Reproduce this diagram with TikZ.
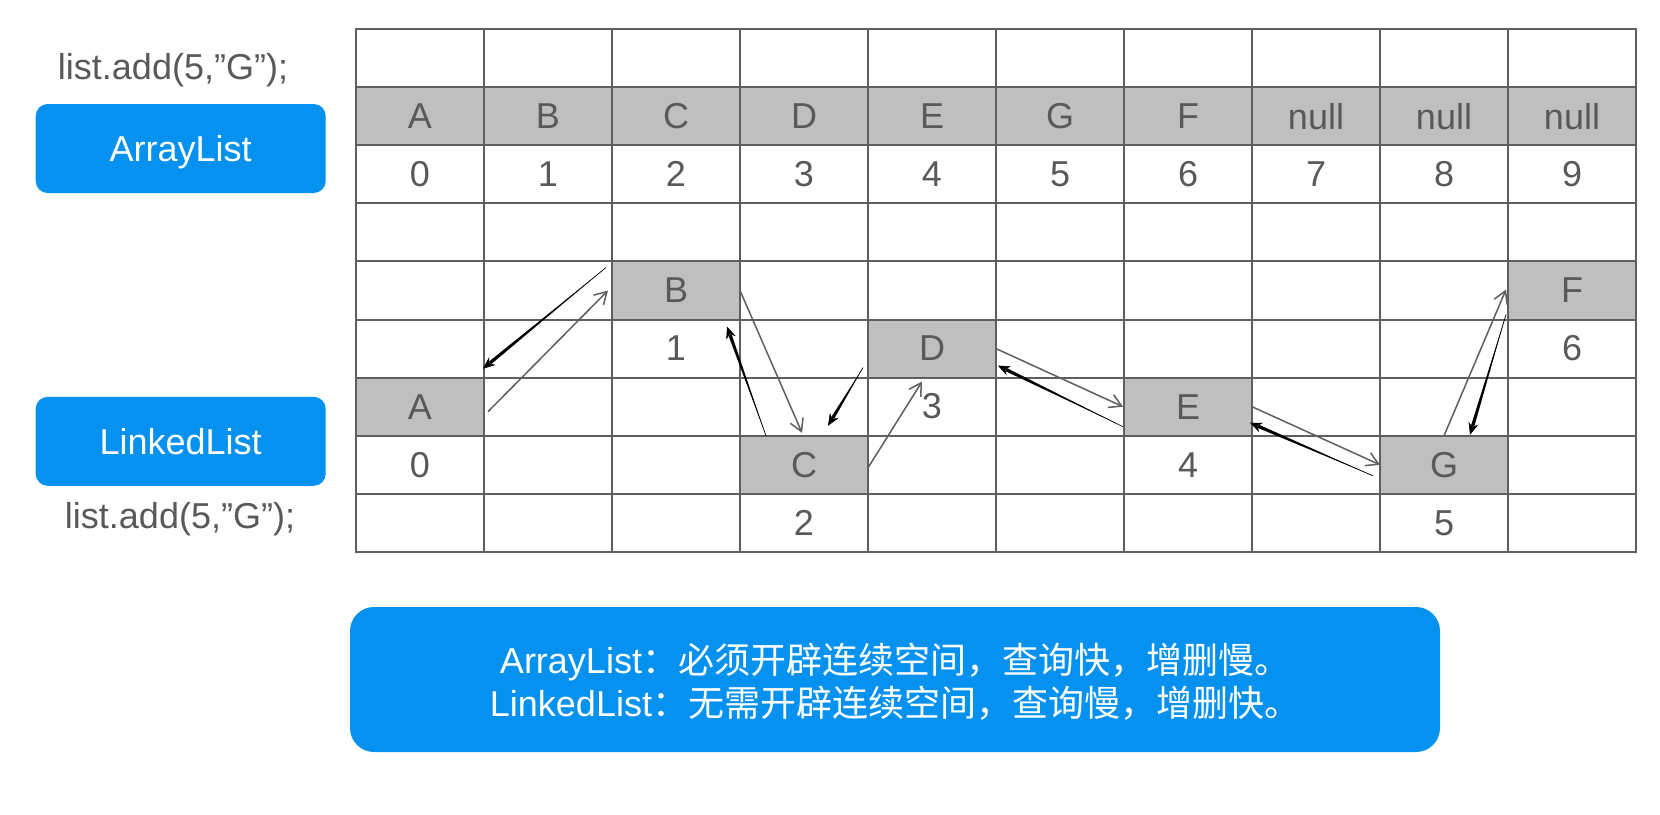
\documentclass[tikz,border=0pt]{standalone}
\usepackage{fontspec}
\setmainfont{Liberation Sans}
\newfontfamily\cjk{Noto Sans CJK SC}
\usetikzlibrary{arrows.meta, positioning, calc}
\definecolor{cellgray}{HTML}{BFBFBF}
\definecolor{inkgray}{HTML}{595959}
\definecolor{linegray}{HTML}{5F5F5F}
\definecolor{tagblue}{HTML}{0591EF}
\tikzset{
  cell/.style={rectangle, minimum width=64pt, minimum height=29pt,
               inner sep=0pt, outer sep=0pt, text=inkgray,
               font=\fontsize{18}{21.6}\selectfont},
  hcell/.style={cell, fill=cellgray},
  tag/.style={rectangle, rounded corners=6pt, fill=tagblue, text=white,
              minimum width=145pt, minimum height=44.5pt, text depth=0pt,
              font=\fontsize{18}{21.6}\selectfont},
  note/.style={tag, rounded corners=12pt, minimum width=545pt,
               minimum height=72.5pt, align=center,
               font=\fontsize{18}{21.5}\selectfont},
  code/.style={text=inkgray, inner sep=0pt, anchor=base,
               font=\fontsize{18}{21.6}\selectfont},
  gridline/.style={draw=linegray, line width=1pt, line cap=rect},
  nxt/.style={draw=linegray, line width=0.75pt,
              -{Straight Barb[length=6pt, width=7pt]}},
  prvtip/.style={draw=black, line width=0.3pt,
                 -{Stealth[length=6pt, width=5pt]}},
}
% tapered back link
\newcommand{\backlink}[2]{%
  \coordinate (ts) at (#1);
  \coordinate (te) at (#2);
  \coordinate (tb) at ($(te)!4.5pt!(ts)$);
  \fill[black] (ts) -- ($(tb)!0.85pt!90:(ts)$) -- ($(tb)!0.85pt!-90:(ts)$) -- cycle;
  \draw[prvtip] (ts) -- (te);
}

\begin{document}
\begin{tikzpicture}[x=0.5pt, y=-0.5pt]
  \path[fill=white] (0,0) rectangle (1660,814);
  \useasboundingbox (0,0) rectangle (1660,814);

  % left labels
  \node[code] (code1) at (173,79) {list.add(5,”G”);};
  \node[tag] (tarr) at (180.7,148.5) {ArrayList};
  \node[tag] (tlnk) at (180.7,441.3) {LinkedList};
  \node[code] (code2) at (180,528) {list.add(5,”G”);};

  % array row
  \foreach \v [count=\i from 0] in {A,B,C,D,E,G,F,null,null,null} {
    \node[hcell] (a\i) at ({420+128*\i},116.2) {\v};
    \node[cell, below=0pt of a\i] (ai\i) {\i};
  }

  % linked nodes
  \node[hcell] (nA) at (420,406.7) {A};
  \node[hcell] (nB) at (676,290.5) {B};
  \node[hcell] (nC) at (804,464.8) {C};
  \node[hcell] (nD) at (932,348.6) {D};
  \node[hcell] (nE) at (1188,406.7) {E};
  \node[hcell] (nG) at (1444,464.8) {G};
  \node[hcell] (nF) at (1572,290.5) {F};
  \node[cell, below=0pt of nA] (iA) {0};
  \node[cell, below=0pt of nB] (iB) {1};
  \node[cell, below=0pt of nC] (iC) {2};
  \node[cell, below=0pt of nD] (iD) {3};
  \node[cell, below=0pt of nE] (iE) {4};
  \node[cell, below=0pt of nG] (iG) {5};
  \node[cell, below=0pt of nF] (iF) {6};

  % grid
  \foreach \k in {0,...,9}
    \draw[gridline] (356,{29+58.1*\k}) -- (1636,{29+58.1*\k});
  \foreach \k in {0,...,10}
    \draw[gridline] ({356+128*\k},29) -- ({356+128*\k},551.9);

  % forward links
  \draw[nxt] ($(nA.east)+(4,5)$) -- ($(nB.west)+(-4,0)$);
  \draw[nxt] (nB.east) -- ($(nC.north)+(-2,-3)$);
  \draw[nxt] ($(nC.east)+(0,3)$) -- ($(nD.south)+(-10,4)$);
  \draw[nxt] (nD.east) -- ($(nE.west)+(-1,0)$);
  \draw[nxt] (nE.east) -- (nG.west);
  \draw[nxt] (nG.north) -- ($(nF.west)+(-2,-1)$);

  % back links
  \backlink{$(nB.north west)+(-6,6)$}{$(nA.north east)+(-1,-9)$}
  \backlink{$(nC.north)+(-38,0)$}{$(nB.south east)+(-13,7)$}
  \backlink{$(nD.south west)+(-5,-10)$}{$(nC.north east)+(-40,-10)$}
  \backlink{$(nE.west)+(-1,20)$}{$(nD.east)+(2,17)$}
  \backlink{$(nG.west)+(-7,11)$}{$(nE.east)+(-2,16)$}
  \backlink{$(nF.south west)+(-2,-5)$}{$(nG.north)+(26,-1)$}

  % summary
  \node[note] (sum) at (895,679.5)
    {ArrayList{\cjk ：必须开辟连续空间，查询快，增删慢。}\\
     LinkedList{\cjk ：无需开辟连续空间，查询慢，增删快。}};
\end{tikzpicture}
\end{document}
